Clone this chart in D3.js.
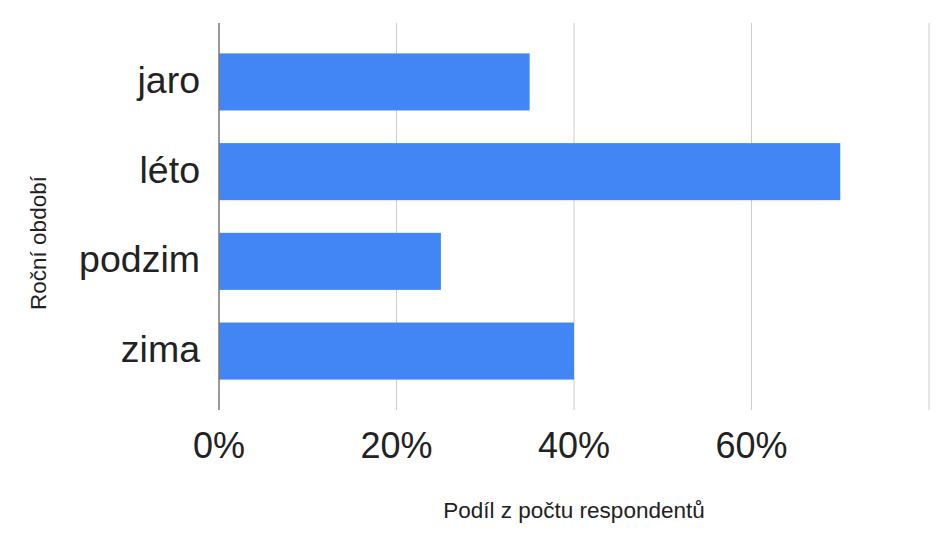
<!DOCTYPE html>
<html>
<head>
  <title>Roční období</title>
  <style>
    body {
      margin: 0;
      padding: 0;
      background: white;
      font-family: Arial, "Liberation Sans", sans-serif;
    }
    .grid line {
      stroke: #cccccc;
    }
  </style>
</head>
<body>
  <div id="chart"></div>
  <script src="https://d3js.org/d3.v7.min.js"></script>
  <script>
    // data
    const categories = ["jaro", "léto", "podzim", "zima"];
    const shares = [0.35, 0.70, 0.25, 0.40];
    const tickValues = [0, 0.2, 0.4, 0.6, 0.8];
    const tickLabels = ["0%", "20%", "40%", "60%", ""];

    const width = 950, height = 548;
    const plotLeft = 219, plotRight = 929, plotTop = 23, plotBottom = 410;

    const svg = d3.select("#chart")
      .append("svg")
      .attr("width", width)
      .attr("height", height)
      .style("font-family", "Arial, 'Liberation Sans', sans-serif");

    const x = d3.scaleLinear().domain([0, 0.8]).range([plotLeft, plotRight]);
    const y = d3.scaleBand().domain(categories).range([plotTop, plotBottom])
      .paddingInner(0.364).paddingOuter(0.339);

    // gridlines
    svg.append("g")
      .attr("class", "grid")
      .selectAll("line")
      .data(tickValues.slice(1))
      .enter()
      .append("line")
      .attr("x1", d => x(d))
      .attr("x2", d => x(d))
      .attr("y1", plotTop)
      .attr("y2", plotBottom)
      .attr("stroke-width", 1);

    // bars
    svg.selectAll(".bar")
      .data(categories)
      .enter()
      .append("rect")
      .attr("class", "bar")
      .attr("x", x(0))
      .attr("y", d => y(d))
      .attr("width", (d, i) => x(shares[i]) - x(0))
      .attr("height", y.bandwidth())
      .attr("fill", "#4285f4");

    // baseline axis
    svg.append("line")
      .attr("x1", x(0))
      .attr("x2", x(0))
      .attr("y1", plotTop)
      .attr("y2", plotBottom)
      .attr("stroke", "#777777")
      .attr("stroke-width", 1.5);

    // x tick labels
    svg.selectAll(".xtick")
      .data(tickValues)
      .enter()
      .append("text")
      .attr("class", "xtick")
      .attr("x", d => x(d))
      .attr("y", 458)
      .attr("text-anchor", "middle")
      .attr("font-size", 36)
      .attr("fill", "#222")
      .text((d, i) => tickLabels[i]);

    // category labels
    svg.selectAll(".ytick")
      .data(categories)
      .enter()
      .append("text")
      .attr("class", "ytick")
      .attr("x", 200)
      .attr("y", d => y(d) + y.bandwidth() / 2 + 11)
      .attr("text-anchor", "end")
      .attr("font-size", 37.5)
      .attr("fill", "#222")
      .text(d => d);

    // axis titles
    svg.append("text")
      .attr("x", (plotLeft + plotRight) / 2)
      .attr("y", 518)
      .attr("text-anchor", "middle")
      .attr("font-size", 22.5)
      .attr("fill", "#222")
      .text("Podíl z počtu respondentů");

    svg.append("text")
      .attr("transform", "translate(46,243) rotate(-90)")
      .attr("text-anchor", "middle")
      .attr("font-size", 22.5)
      .attr("fill", "#222")
      .text("Roční období");
  </script>
</body>
</html>
